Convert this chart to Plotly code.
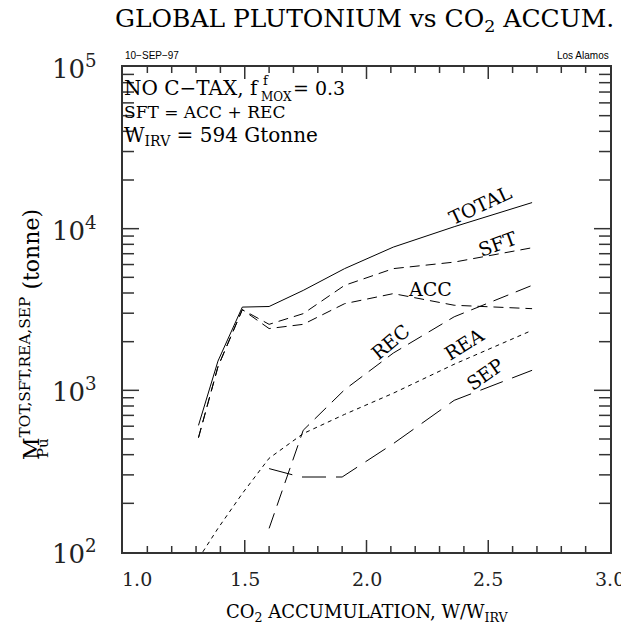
import math
import plotly.graph_objects as go

# ---- data ----
x_all = [1.31, 1.39, 1.49, 1.60, 1.74, 1.91, 2.11, 2.36, 2.68]
total = [607, 1517, 3273, 3300, 4150, 5660, 7690, 10280, 14500]
sft   = [510, 1400, 3155, 2560, 2980, 4460, 5660, 6210, 7620]
acc   = [510, 1400, 3155, 2410, 2560, 3435, 3965, 3360, 3200]
x_rec = [1.60, 1.74, 1.91, 2.11, 2.36, 2.68]
rec   = [140, 566, 1009, 1700, 2850, 4460]
x_rea = [1.31, 1.39, 1.49, 1.60, 1.74, 1.91, 2.11, 2.36, 2.68]
rea   = [91, 140, 230, 380, 540, 710, 960, 1450, 2350]
x_sep = [1.60, 1.73, 1.90, 2.11, 2.36, 2.68]
sep   = [328, 291, 291, 468, 867, 1330]

x_ticks = [1.0, 1.5, 2.0, 2.5, 3.0]
x_tick_text = ["1.0", "1.5", "2.0", "2.5", "3.0"]
x_minor = [round(1.0 + 0.1 * i, 1) for i in range(21) if i % 5 != 0]
y_ticks = [100, 1000, 10000, 100000]
y_tick_text = ["10<sup>2</sup>", "10<sup>3</sup>", "10<sup>4</sup>", "10<sup>5</sup>"]
y_minor = [m * 10 ** d for d in (2, 3, 4) for m in range(2, 10)]

# ---- layout geometry (page pixels; page body has an 8px margin) ----
OFF = 8
W, H = 629 - OFF, 640 - OFF
L, R, T, B = 123, 610, 67, 552
PW, PH = R - L, B - T
X0, X1 = 1.0, 3.0
LY0, LY1 = 2.0, 5.0
SERIF = "DejaVu Serif"
SANS = "Liberation Sans"
AX = "#333"

def px(xp):
    return (xp - L) / PW

def py(yp):
    return (B - yp) / PH

fig = go.Figure()
line_style = dict(color="black", width=1)
fig.add_trace(go.Scatter(x=x_all, y=total, mode="lines", line=dict(**line_style)))
fig.add_trace(go.Scatter(x=x_all, y=sft, mode="lines", line=dict(dash="10px,6px", **line_style)))
fig.add_trace(go.Scatter(x=x_all, y=acc, mode="lines", line=dict(dash="10px,6px", **line_style)))
fig.add_trace(go.Scatter(x=x_rec, y=rec, mode="lines", line=dict(dash="16px,8px", **line_style)))
fig.add_trace(go.Scatter(x=x_rea, y=rea, mode="lines", line=dict(dash="4px,4px", **line_style)))
fig.add_trace(go.Scatter(x=x_sep, y=sep, mode="lines", line=dict(dash="24px,10px", **line_style)))

# inward tick marks on all four sides, built from the tick lists in axis units
dx = (X1 - X0) / PW          # data units per pixel (x)
dly = (LY1 - LY0) / PH       # decades per pixel (y)
tx, ty = [], []
for v, ln in [(v, 12) for v in x_ticks[1:-1]] + [(v, 6) for v in x_minor]:
    tx += [v, v, None, v, v, None]
    ty += [10 ** LY0, 10 ** (LY0 + ln * dly), None, 10 ** LY1, 10 ** (LY1 - ln * dly), None]
for v, ln in [(v, 16) for v in y_ticks[1:-1]] + [(v, 11) for v in y_minor]:
    tx += [X0, X0 + ln * dx, None, X1, X1 - ln * dx, None]
    ty += [v, v, None, v, v, None]
fig.add_trace(go.Scatter(x=tx, y=ty, mode="lines", line=dict(color=AX, width=1.5),
                         hoverinfo="skip", connectgaps=False))

fig.update_xaxes(range=[X0, X1], showline=True, linecolor=AX, linewidth=2, mirror=True,
                 ticks="", showticklabels=False, showgrid=False, zeroline=False)
fig.update_yaxes(type="log", range=[LY0, LY1], showline=True, linecolor=AX, linewidth=2, mirror=True,
                 ticks="", showticklabels=False, showgrid=False, zeroline=False)

ann = []
def text(xp, yp, s, size, family=SERIF, xanchor="center", yanchor="middle", angle=0, color="black"):
    ann.append(dict(x=px(xp), y=py(yp), xref="paper", yref="paper", text=s, showarrow=False,
                    xanchor=xanchor, yanchor=yanchor, textangle=angle,
                    font=dict(family=family, size=size, color=color)))

# tick labels placed through the axes' own scales
for v, s in zip(x_ticks, x_tick_text):
    ann.append(dict(x=v, y=0, xref="x", yref="paper", text=s, showarrow=False,
                    xanchor="center", yanchor="top", yshift=-14,
                    xshift=14 if v == 1.0 else 0,
                    font=dict(family=SERIF, size=19, color="#222")))
for v, s in zip(y_ticks, y_tick_text):
    ann.append(dict(x=0, y=math.log10(v), xref="paper", yref="y", text=s, showarrow=False,
                    xanchor="right", yanchor="middle", xshift=-24,
                    font=dict(family=SERIF, size=26, color="#222")))

# title
text(364, 20, "GLOBAL PLUTONIUM vs CO<sub>2</sub> ACCUM.", 25)
text(123, 55, "10−SEP−97", 10, family=SANS, xanchor="left")
text(611, 55, "Los Alamos", 10, family=SANS, xanchor="right")

# info block
text(122, 88, "NO C−TAX, f", 20, xanchor="left")
text(261, 80, "f", 13, xanchor="left")
text(259, 97, "MOX", 12, xanchor="left")
text(291, 88, "= 0.3", 19, xanchor="left")
text(122, 112, "SFT = ACC + REC", 17, xanchor="left")
text(122, 136, "W<sub>IRV</sub> = 594 Gtonne", 20, xanchor="left")

# curve labels
text(480, 205, "TOTAL", 19, angle=-25)
text(497, 244, "SFT", 19, angle=-20)
text(430, 289, "ACC", 19)
text(390, 342, "REC", 19, angle=-40)
text(464, 344, "REA", 19, angle=-32)
text(485, 374, "SEP", 19, angle=-35)

# axis titles
text(367, 613, "CO<sub>2</sub> ACCUMULATION, W/W<sub>IRV</sub>", 18)
text(30, 335, "M<sup>TOT,SFT,REA,SEP</sup> (tonne)", 22, angle=-90)
text(43, 448, "Pu", 15, angle=-90)

fig.update_layout(
    width=W, height=H, showlegend=False,
    margin=dict(l=L - OFF, r=629 - R, t=T - OFF, b=640 - B),
    paper_bgcolor="white", plot_bgcolor="white",
    annotations=ann,
)
fig.write_html("out.html")
